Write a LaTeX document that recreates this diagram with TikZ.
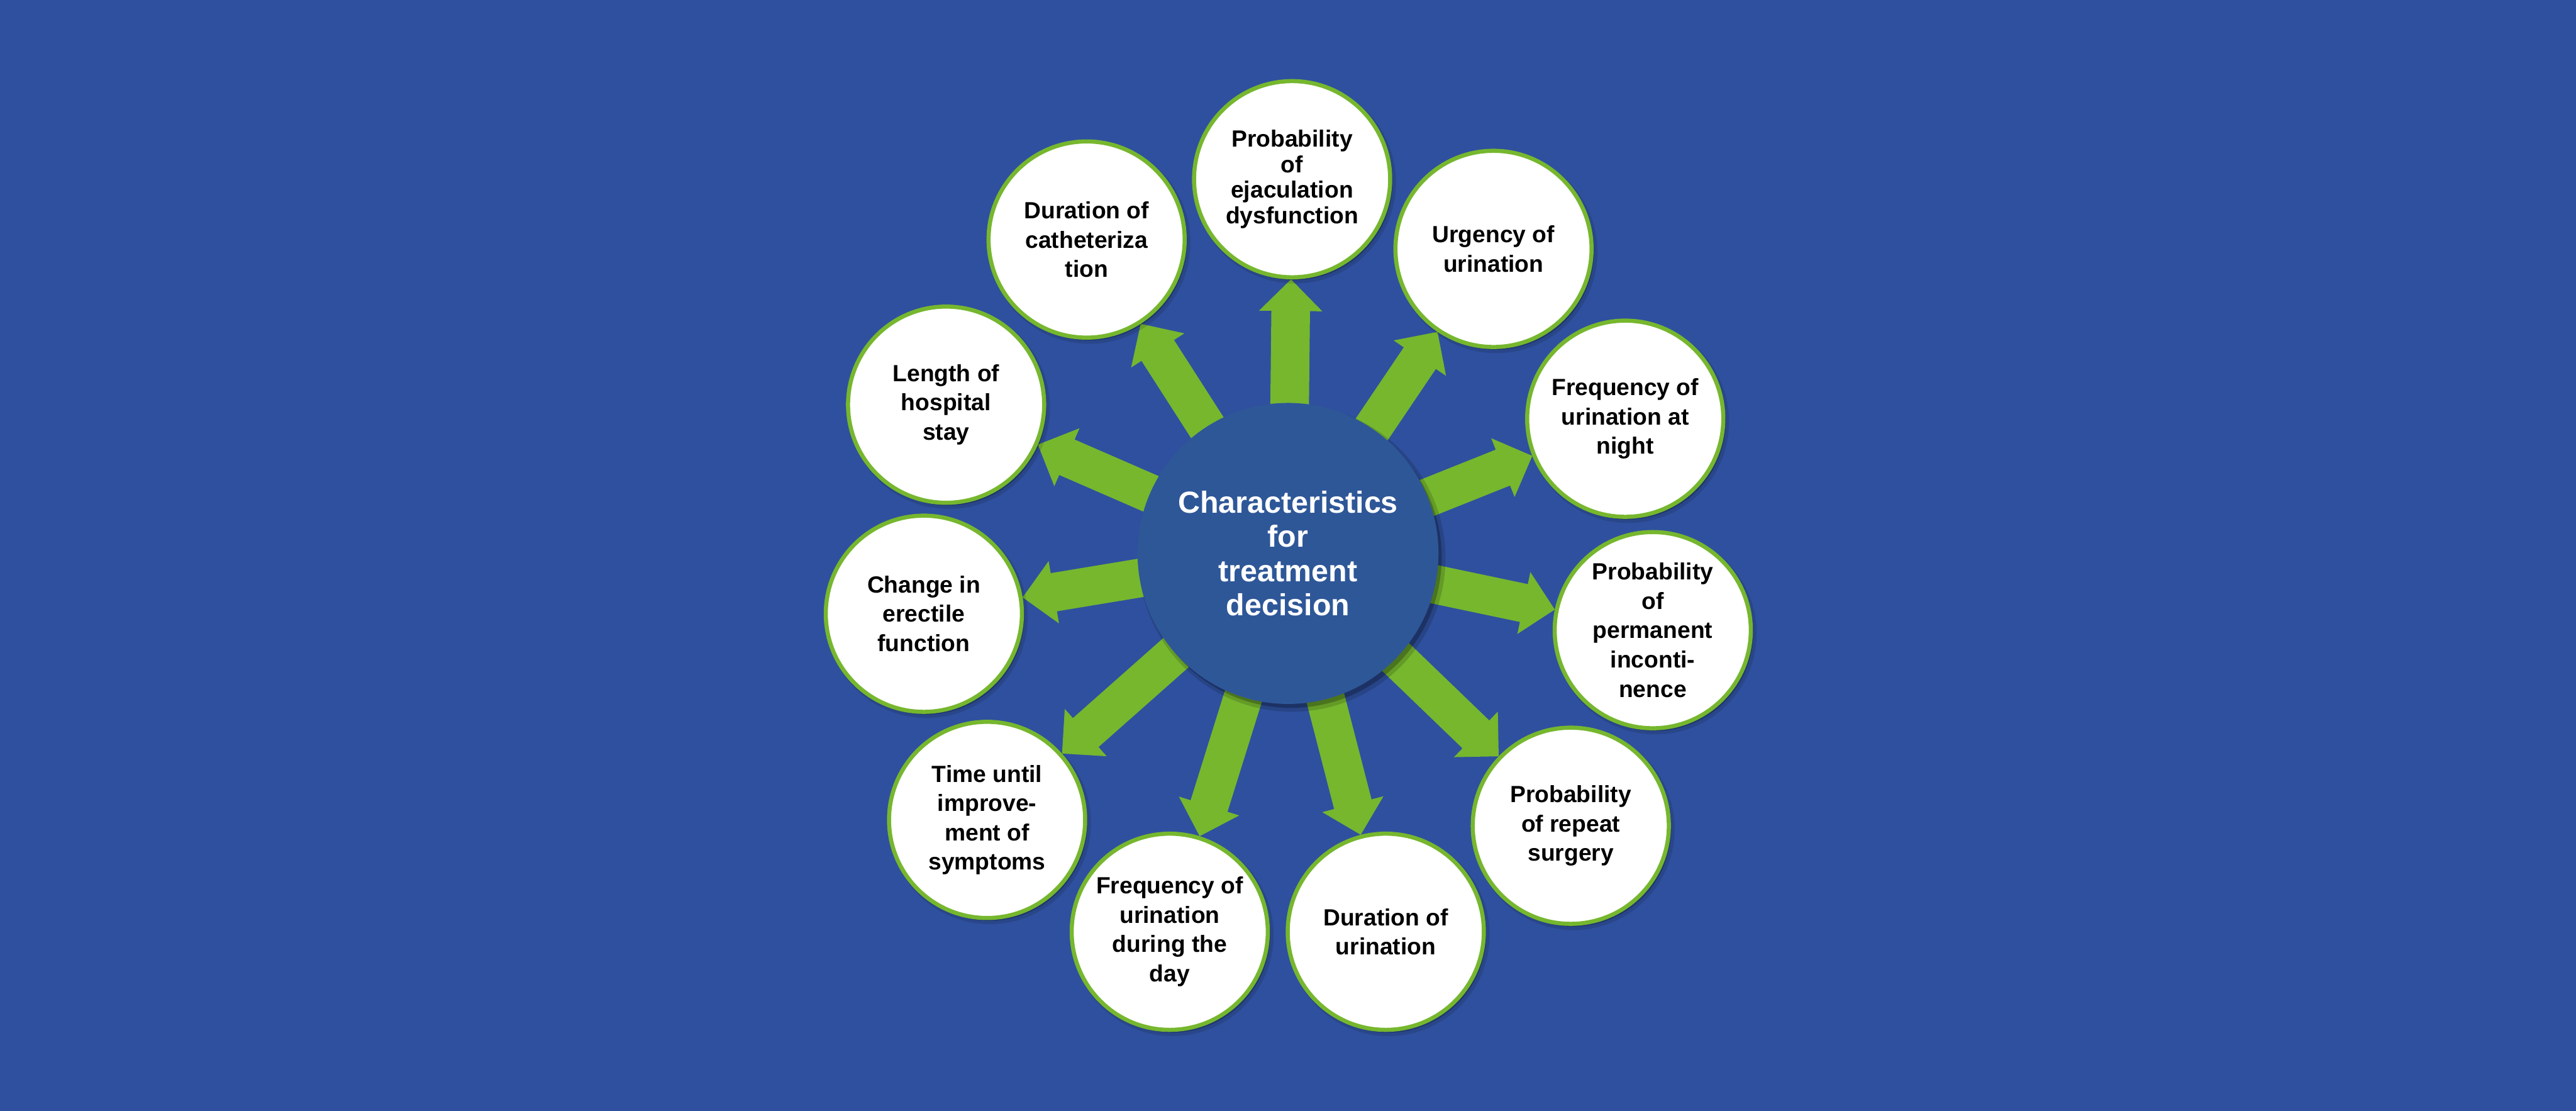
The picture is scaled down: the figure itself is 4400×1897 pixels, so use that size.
\documentclass[tikz,border=0pt]{standalone}
\usepackage{fontspec}
\setmainfont{Liberation Sans}
\usetikzlibrary{calc,shadows}
\definecolor{bgblue}{RGB}{47,80,158}
\definecolor{cblue}{RGB}{46,87,152}
\definecolor{lgreen}{RGB}{118,183,46}
\pgfdeclarelayer{bg}
\pgfdeclarelayer{arr}
\pgfsetlayers{bg,arr,main}
\begin{document}
\begin{tikzpicture}[x=0.3pt,y=-0.3pt,
  item/.style={circle, draw=lgreen, line width=2.1pt, fill=white,
    minimum size=100.5pt, inner sep=0pt, align=center, text=black,
    font=\bfseries\fontsize{12pt}{15pt}\selectfont,
    drop shadow={shadow xshift=1.4pt, shadow yshift=-1.6pt, opacity=0.12, fill=black, shadow scale=1.03},
    drop shadow={shadow xshift=1.2pt, shadow yshift=-1.4pt, opacity=0.22, fill=black}},
  tightitem/.style={item, font=\bfseries\fontsize{12pt}{13.2pt}\selectfont},
  hub/.style={circle, fill=cblue, minimum size=154.2pt, inner sep=0pt,
    align=center, text=white,
    font=\bfseries\fontsize{15.6pt}{17.5pt}\selectfont,
    drop shadow={shadow xshift=2pt, shadow yshift=-2.4pt, opacity=0.15, fill=black, shadow scale=1.02},
    drop shadow={shadow xshift=1.6pt, shadow yshift=-2pt, opacity=0.25, fill=black}},
  arrowfill/.style={fill=lgreen}
]
\begin{pgfonlayer}{bg}
  \fill[bgblue] (0,0) rectangle (4400,1897);
\end{pgfonlayer}
\useasboundingbox (0,0) rectangle (4400,1897);

\node[tightitem] (o1) at (2207,306) {Probability\\of\\ejaculation\\dysfunction};
\node[item] (o2) at (2551,425) {Urgency of\\urination};
\node[item] (o3) at (2776,715) {Frequency of\\urination at\\night};
\node[item] (o4) at (2823,1076) {Probability\\of\\permanent\\inconti-\\nence};
\node[item] (o5) at (2683,1410) {Probability\\of repeat\\surgery};
\node[item] (o6) at (2367,1591) {Duration of\\urination};
\node[item] (o7) at (1998,1591) {Frequency of\\urination\\during the\\day};
\node[item] (o8) at (1686,1400) {Time until\\improve-\\ment of\\symptoms};
\node[item] (o9) at (1578,1048) {Change in\\erectile\\function};
\node[item] (o10) at (1616,691) {Length of\\hospital\\stay};
\node[item] (o11) at (1856,409) {Duration of\\catheteriza\\tion};

\node[hub] (c) at (2200,945) {Characteristics\\for\\treatment\\decision};

\begin{pgfonlayer}{arr}
\foreach \i in {1,...,11}{
  \coordinate (T) at ($(o\i)!51.3pt!(c)$);
  \coordinate (B) at ($(o\i)!67.5pt!(c)$);
  \fill[arrowfill] ($(c)!9.9pt!90:(o\i)$) -- ($(B)!9.9pt!90:(o\i)$)
     -- ($(B)!16.2pt!90:(o\i)$) -- (T) -- ($(B)!16.2pt!-90:(o\i)$)
     -- ($(B)!9.9pt!-90:(o\i)$) -- ($(c)!9.9pt!-90:(o\i)$) -- cycle;
}
\end{pgfonlayer}
\end{tikzpicture}
\end{document}
